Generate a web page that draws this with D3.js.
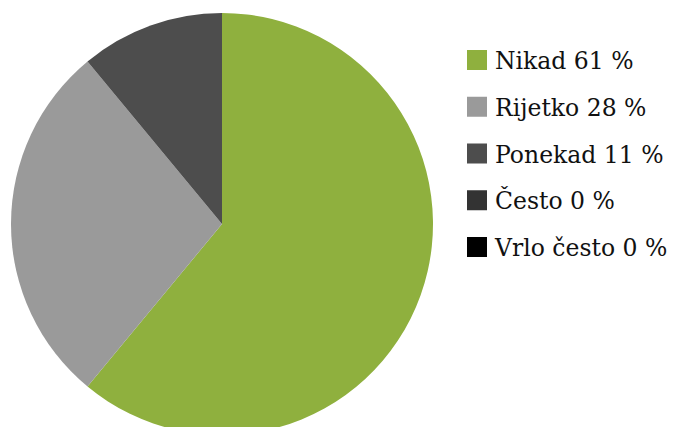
<!DOCTYPE html>
<html>
<head>
<meta charset="utf-8">
<script src="https://cdn.jsdelivr.net/npm/d3@7"></script>
<style>
  body { margin: 0; background: #fff; }
</style>
</head>
<body>
<div class="chart"></div>
<script>
var svgWidth = 678;
var svgHeight = 427;

// data
var labels = ["Nikad", "Rijetko", "Ponekad", "Često", "Vrlo često"];
var values = [61, 28, 11, 0, 0];
var colors = ["#8fb03e", "#9a9a9a", "#4d4d4d", "#333333", "#000000"];

var svg = d3.select(".chart")
  .append("svg")
  .attr("width", svgWidth)
  .attr("height", svgHeight);

var radius = 211;
var pieGroup = svg.append("g")
  .attr("transform", "translate(222, 224)");

var pie = d3.pie().sort(null).value(d => d);
var arc = d3.arc().innerRadius(0).outerRadius(radius);

pieGroup.selectAll("path")
  .data(pie(values))
  .enter()
  .append("path")
  .attr("d", arc)
  .attr("fill", (d, i) => colors[i]);

var legendY = d3.scalePoint()
  .domain(labels)
  .range([60, 247]);

var legend = svg.append("g");

var items = legend.selectAll("g")
  .data(labels)
  .enter()
  .append("g")
  .attr("transform", d => `translate(467, ${legendY(d)})`);

items.append("rect")
  .attr("x", 0)
  .attr("y", -10)
  .attr("width", 20)
  .attr("height", 20)
  .attr("fill", (d, i) => colors[i]);

items.append("text")
  .attr("x", 28)
  .attr("y", 9)
  .attr("font-family", "'DejaVu Serif', serif")
  .attr("font-size", 23.5)
  .attr("fill", "#111")
  .text((d, i) => `${d} ${values[i]} %`);
</script>
</body>
</html>
